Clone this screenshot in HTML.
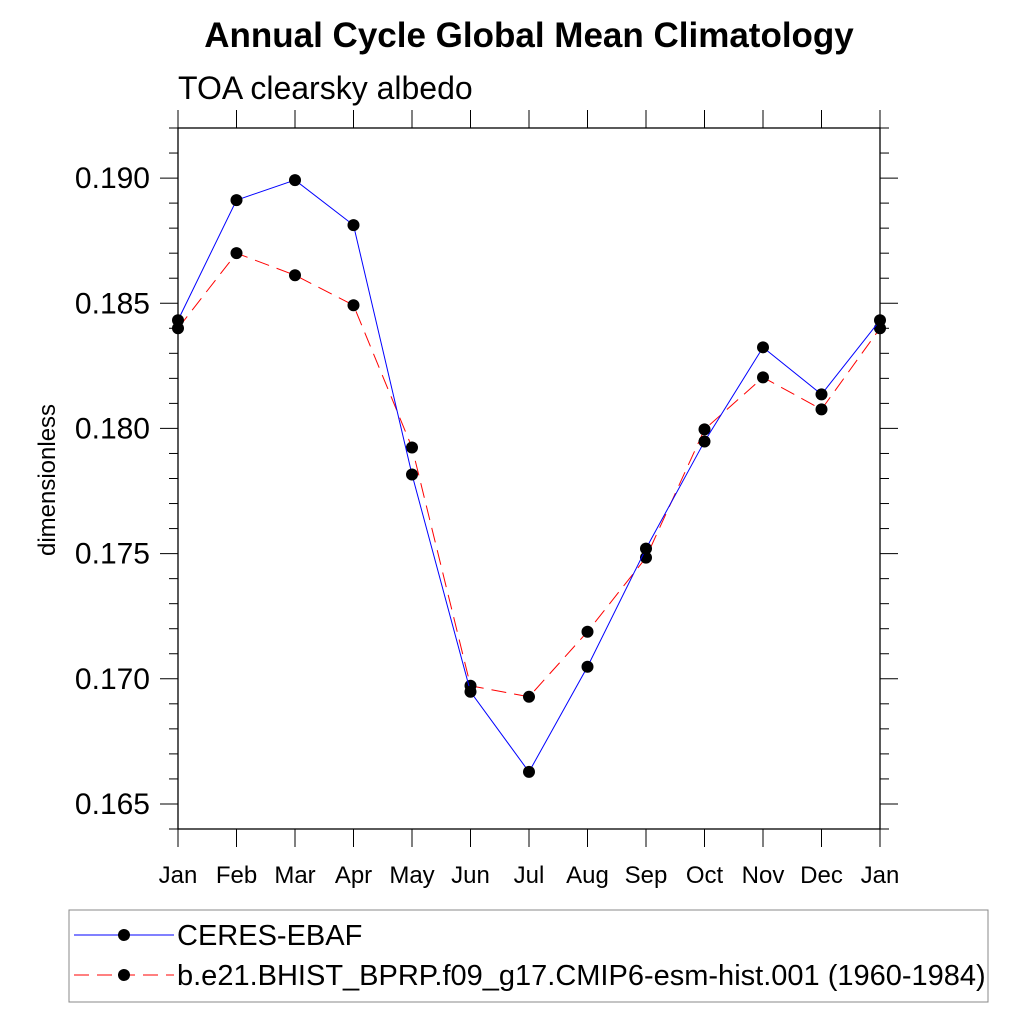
<!DOCTYPE html>
<html><head><meta charset="utf-8"><style>body{margin:0;background:#fff}svg{display:block;font-family:"Liberation Sans",sans-serif}</style></head>
<body>
<svg id="c" width="1024" height="1024">
<text x="529" y="47" text-anchor="middle" font-size="35" font-weight="bold">Annual Cycle Global Mean Climatology</text>
<text x="178" y="99" font-size="32">TOA clearsky albedo</text>
<text transform="translate(55,480) rotate(-90)" text-anchor="middle" font-size="24">dimensionless</text>
<g id="axes"></g><g id="series"></g>
<rect x="69" y="910" width="919" height="92" fill="none" stroke="#888" stroke-width="1"/>
<g>
<line x1="74" y1="935" x2="174" y2="935" stroke="#0000ff" stroke-width="1"/><circle cx="124" cy="935" r="6" fill="#000"/>
<text x="177" y="945" font-size="29">CERES-EBAF</text></g>
<g>
<line x1="74" y1="975" x2="174" y2="975" stroke="#ff0000" stroke-width="1" stroke-dasharray="15,8"/><circle cx="124" cy="975" r="6" fill="#000"/>
<text x="177" y="985" font-size="29">b.e21.BHIST_BPRP.f09_g17.CMIP6-esm-hist.001 (1960-1984)</text></g>
</svg>
<script>
const months=["Jan","Feb","Mar","Apr","May","Jun","Jul","Aug","Sep","Oct","Nov","Dec","Jan"];
const ceres=[0.18432,0.18912,0.18992,0.18812,0.17816,0.16948,0.16628,0.17048,0.1752,0.17948,0.18324,0.18136,0.18432];
const model=[0.1840,0.1870,0.18612,0.18492,0.17924,0.16972,0.16928,0.17188,0.17484,0.17996,0.18204,0.18076,0.1840];
const yTicks=[0.165,0.170,0.175,0.180,0.185,0.190];
const yTickLabels=["0.165","0.170","0.175","0.180","0.185","0.190"];
const X0=178,X1=880,Y0=128,Y1=829,vmin=0.164,vmax=0.192;
const xs=i=>X0+i*(X1-X0)/12;
const ys=v=>Y1-(v-vmin)/(vmax-vmin)*(Y1-Y0);
const NS="http://www.w3.org/2000/svg";
function mk(p,t,a){const e=document.createElementNS(NS,t);for(const k in a)e.setAttribute(k,a[k]);p.appendChild(e);return e;}
const ax=document.getElementById('axes');
const fr=mk(ax,'rect',{x:X0,y:Y0,width:X1-X0,height:Y1-Y0,fill:'none',stroke:'#000','stroke-width':1.3});


for(let v=0.164;v<=0.19201;v+=0.001){const y=ys(v);const maj=yTicks.some(t=>Math.abs(t-v)<1e-6);const L=maj?18:9;
mk(ax,'line',{x1:X0-L,x2:X0,y1:y,y2:y,stroke:'#000','stroke-width':1});mk(ax,'line',{x1:X1,x2:X1+L,y1:y,y2:y,stroke:'#000','stroke-width':1});}
yTicks.forEach((t,i)=>{const tx=mk(ax,'text',{x:150,y:ys(t)+10,'text-anchor':'end','font-size':30});tx.textContent=yTickLabels[i];

});
months.forEach((m,i)=>{const x=xs(i);mk(ax,'line',{x1:x,x2:x,y1:Y1,y2:Y1+18,stroke:'#000','stroke-width':1});mk(ax,'line',{x1:x,x2:x,y1:Y0-18,y2:Y0,stroke:'#000','stroke-width':1});
const tx=mk(ax,'text',{x:x,y:883,'text-anchor':'middle','font-size':24});tx.textContent=m;

});
const sg=document.getElementById('series');
function series(vals,col,dash,name){const g=mk(sg,'g',{});


const pl=mk(g,'polyline',{points:vals.map((v,i)=>xs(i)+','+ys(v)).join(' '),fill:'none',stroke:col,'stroke-width':1});if(dash)pl.setAttribute('stroke-dasharray',dash);
vals.forEach((v,i)=>{const c=mk(g,'circle',{cx:xs(i),cy:ys(v),r:6,fill:'#000'});

});}
series(model,'#ff0000','15,8','series-model');
series(ceres,'#0000ff',null,'series-ceres');
</script>
</body></html>
